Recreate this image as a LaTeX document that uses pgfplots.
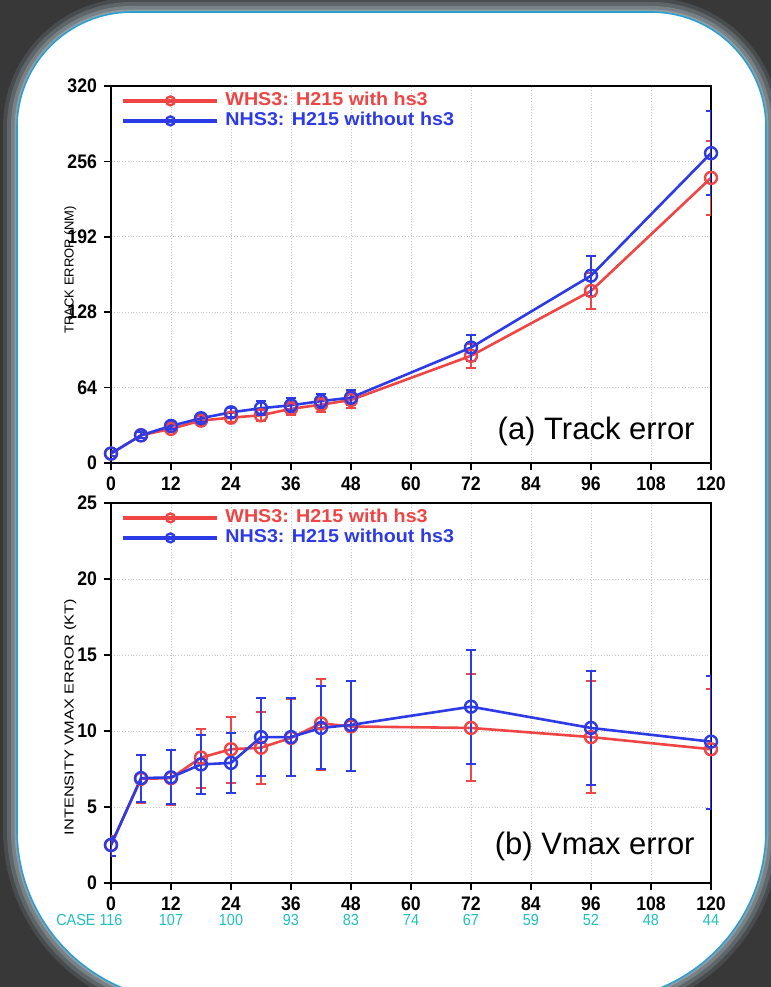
\documentclass[border=0pt]{standalone}
\usepackage{pgfplots}
\usepackage{pgfplotstable}
\pgfplotsset{compat=1.18}
\usepackage{fontspec}
\setmainfont{Liberation Sans}
\newfontfamily\gradsfont[FakeStretch=0.9]{Liberation Sans}
\newfontfamily\legfont[FakeStretch=1.06]{Liberation Sans}
\usepackage{graphicx}

\definecolor{wred}{HTML}{F04545}
\definecolor{nblue}{HTML}{2D3BE6}
\definecolor{casecyan}{HTML}{1EC0C0}
\definecolor{bgdark}{HTML}{383838}
\definecolor{panelborder}{HTML}{2A9FD3}

% Track error (NM): x y err
\pgfplotstableread{
x y e
0 8 2
6 23.5 2.5
12 29 3
18 36 3.5
24 38.5 4
30 40.5 5
36 46 5.5
42 49.5 6
48 53.5 6.5
72 91 10
96 146 15
120 242 31.5
}\trackW
\pgfplotstableread{
x y e
0 8 2
6 23.5 2.5
12 31.5 3
18 38 3.5
24 43 4
30 46.5 6
36 49 6
42 52.5 6
48 55.5 6.5
72 98 11
96 159 17
120 263 35.5
}\trackN
% Vmax error (KT): x y plus minus
\pgfplotstableread{
x y ep em
0 2.5 0.6 0.7
6 6.85 1.55 1.6
12 6.9 1.85 1.75
18 8.25 1.9 2.0
24 8.8 2.15 2.2
30 8.9 2.35 2.4
36 9.55 2.55 2.5
42 10.5 2.95 3.05
48 10.3 3.0 2.95
72 10.2 3.55 3.5
96 9.6 3.7 3.7
120 8.8 3.95 3.9
}\vmaxW
\pgfplotstableread{
x y ep em
0 2.5 0.55 0.7
6 6.9 1.5 1.6
12 6.95 1.8 1.75
18 7.8 1.95 1.95
24 7.9 1.95 1.95
30 9.6 2.55 2.55
36 9.6 2.55 2.55
42 10.2 2.75 2.7
48 10.4 2.9 3.0
72 11.6 3.7 3.75
96 10.2 3.75 3.75
120 9.3 4.3 4.4
}\vmaxN

\newcommand{\cs}[1]{\textcolor{casecyan}{\mdseries\fontsize{8}{7.5}\selectfont #1}}

% panel outline grown by #1
\newcommand{\panel}[1]{(8.5pt-#1,78.5pt) -- (8.5pt-#1,430pt)
  arc[start angle=180,end angle=90,radius=57.5pt+#1] -- (325.5pt,487.5pt+#1)
  arc[start angle=90,end angle=0,radius=57.5pt+#1] -- (383pt+#1,78.5pt)
  arc[start angle=0,end angle=-90,radius=85.5pt+#1] -- (94pt,-7pt-#1)
  arc[start angle=270,end angle=180,radius=85.5pt+#1] -- cycle}

\pgfplotsset{
  common/.style={
    scale only axis, width=300pt,
    xmin=0, xmax=120, xtick={0,12,...,120},
    axis line style={line width=0.8pt},
    tick style={black, line width=0.8pt},
    tick align=outside, tick pos=left, major tick length=3.5pt,
    grid=major, major grid style={densely dotted, black!22, line width=0.5pt},
    ticklabel style={font=\gradsfont\bfseries\fontsize{9.8}{7.5}\selectfont},
    /pgf/number format/assume math mode=true,
    legend cell align=left,
    legend style={at={(0,1)}, anchor=north west, xshift=5pt, yshift=-2.5pt,
      draw=none, fill=none, inner sep=0pt, row sep=0.5pt, column sep=2.5pt,
      font=\legfont\bfseries\fontsize{9.3}{10}\selectfont,
      nodes={inner sep=0.5pt, text height=6.5pt, text depth=2pt}},
    legend image code/.code={
      \draw[#1, line width=2pt] (0pt,0pt) -- (47pt,0pt);
      \draw[#1, line width=1pt, mark size=2.2pt] plot coordinates {(23.5pt,0pt)};
    },
    every axis y label/.style={rotate=90, anchor=center,
      font=\fontsize{6.5}{7}\selectfont},
  },
  ser/.style={color=#1, line width=1.3pt, mark=o, mark size=3pt,
    mark options={line width=1.2pt},
    error bars/y dir=both,
    error bars/error bar style={line width=1pt, #1},
    error bars/error mark options={rotate=90, mark size=2.3pt, line width=1pt, #1}},
}

\begin{document}
\begin{tikzpicture}
\useasboundingbox (0,0) rectangle (385.5pt,493.5pt);
\begin{scope}
\clip (0,0) rectangle (385.5pt,493.5pt);
\fill[bgdark] (0,0) rectangle (385.5pt,493.5pt);
% panel shadow and panel
\fill[color={rgb,255:red,72;green,76;blue,78}] \panel{7pt};
\fill[color={rgb,255:red,95;green,102;blue,105}] \panel{5pt};
\fill[color={rgb,255:red,120;green,129;blue,133}] \panel{3pt};
\fill[color={rgb,255:red,148;green,158;blue,161}] \panel{1.2pt};
\filldraw[fill=white, draw=panelborder, line width=0.8pt] \panel{0pt};
\end{scope}

% ---------- (a) Track error
\begin{axis}[common, at={(55.5pt,262pt)}, anchor=south west, height=188.5pt,
  ymin=0, ymax=320, ytick={0,64,...,320},
  ylabel={TRACK ERROR (NM)},
  every axis y label/.append style={at={(axis description cs:-0.068,0.512)}},
]
\addplot+[ser=wred, error bars/y explicit] table[x=x, y=y, y error=e] {\trackW};
\addlegendentry{\textcolor{wred}{WHS3: H215 with hs3}}
\addplot+[ser=nblue, error bars/y explicit] table[x=x, y=y, y error=e] {\trackN};
\addlegendentry{\textcolor{nblue}{NHS3: H215 without hs3}}
\end{axis}
\node[anchor=base east, inner sep=0pt, font=\fontsize{15.5}{16}\selectfont] at (347.5pt,273.5pt) {(a) Track error};

% ---------- (b) Vmax error
\begin{axis}[common, at={(55.5pt,52pt)}, anchor=south west, height=190pt,
  ymin=0, ymax=25, ytick={0,5,...,25},
  ylabel={\scalebox{1.26}[1]{INTENSITY VMAX ERROR (KT)}},
  every axis y label/.append style={at={(axis description cs:-0.068,0.437)}},
  xticklabels={
    {0\\\cs{\llap{CASE }116}},
    {12\\\cs{107}},
    {24\\\cs{100}},
    {36\\\cs{93}},
    {48\\\cs{83}},
    {60\\\cs{74}},
    {72\\\cs{67}},
    {84\\\cs{59}},
    {96\\\cs{52}},
    {108\\\cs{48}},
    {120\\\cs{44}}},
  xticklabel style={align=center},
]
\addplot+[ser=wred, error bars/y explicit] table[x=x, y=y, y error plus=ep, y error minus=em] {\vmaxW};
\addlegendentry{\textcolor{wred}{WHS3: H215 with hs3}}
\addplot+[ser=nblue, error bars/y explicit] table[x=x, y=y, y error plus=ep, y error minus=em] {\vmaxN};
\addlegendentry{\textcolor{nblue}{NHS3: H215 without hs3}}
\end{axis}
\node[anchor=base east, inner sep=0pt, font=\fontsize{15.5}{16}\selectfont] at (347.5pt,66pt) {(b) Vmax error};
\end{tikzpicture}
\end{document}
